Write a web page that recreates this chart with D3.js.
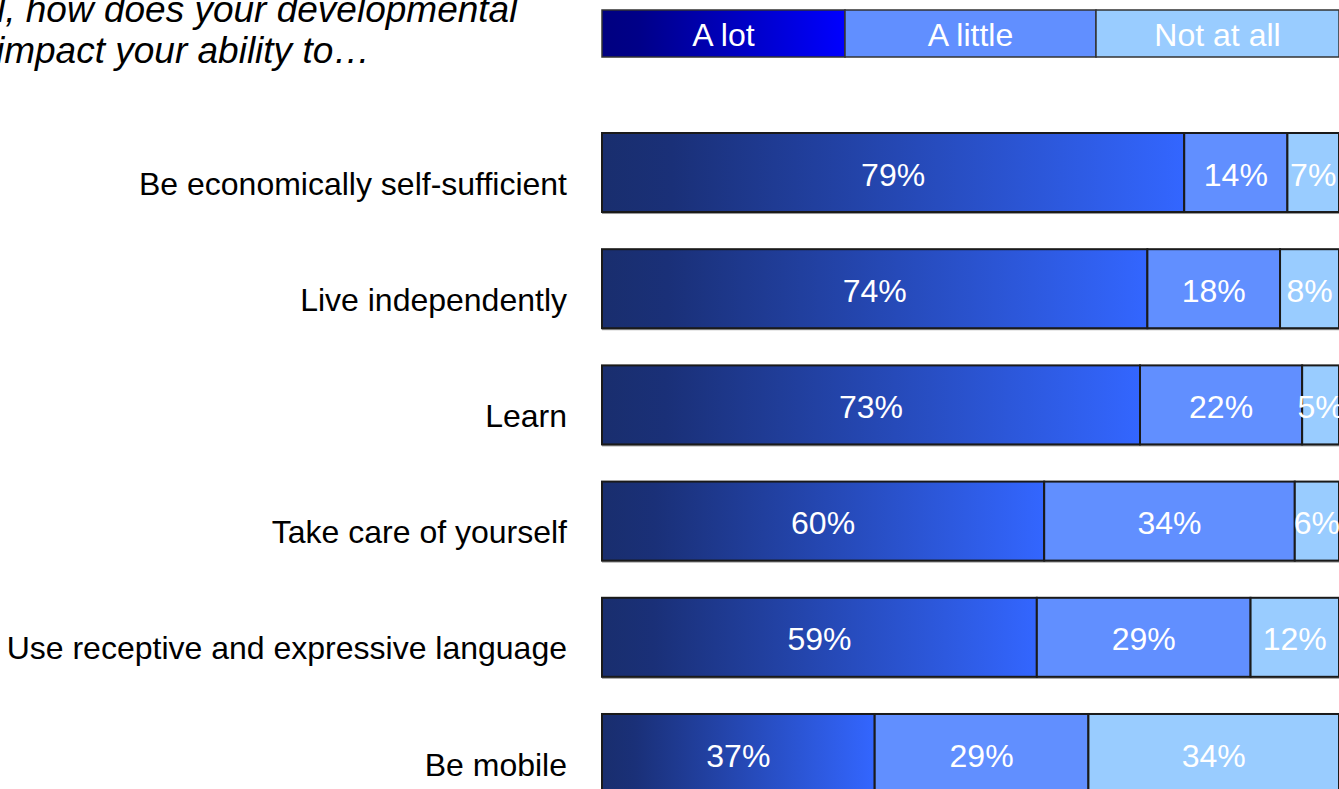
<!DOCTYPE html>
<html>
<head>
<meta charset="utf-8">
<script src="https://cdn.jsdelivr.net/npm/d3@7"></script>
<style>
  html, body { margin: 0; padding: 0; background: #fff; overflow: hidden; }
  svg { display: block; }
  text { font-family: Arial, "Liberation Sans", Helvetica, sans-serif; }
</style>
</head>
<body>
<svg id="chart" width="1339" height="789"></svg>
<script>
const categories = [
  "Be economically self-sufficient",
  "Live independently",
  "Learn",
  "Take care of yourself",
  "Use receptive and expressive language",
  "Be mobile"
];
const seriesNames = ["A lot", "A little", "Not at all"];
const aLot      = [79, 74, 73, 60, 59, 37];
const aLittle   = [14, 18, 22, 34, 29, 29];
const notAtAll  = [7, 8, 5, 6, 12, 34];
const titleLines = ["l, how does your developmental", "impact your ability to…"];

const svg = d3.select("#chart");
const defs = svg.append("defs");

const gBar = defs.append("linearGradient").attr("id", "gradLot")
  .attr("x1", "0%").attr("x2", "100%").attr("y1", "0%").attr("y2", "0%");
gBar.append("stop").attr("offset", "0%").attr("stop-color", "#192e6e");
gBar.append("stop").attr("offset", "12%").attr("stop-color", "#1a3078");
gBar.append("stop").attr("offset", "100%").attr("stop-color", "#3366ff");

const gLeg = defs.append("linearGradient").attr("id", "gradLeg")
  .attr("x1", "0%").attr("x2", "100%").attr("y1", "0%").attr("y2", "0%");
gLeg.append("stop").attr("offset", "0%").attr("stop-color", "#000080");
gLeg.append("stop").attr("offset", "15%").attr("stop-color", "#000088");
gLeg.append("stop").attr("offset", "100%").attr("stop-color", "#0000ff");

const fills = ["url(#gradLot)", "#618fff", "#99ccff"];
const legendFills = ["url(#gradLeg)", "#618fff", "#99ccff"];

const x = d3.scaleLinear().domain([0, 100]).range([602, 1339]);
const y = d3.scaleBand().domain(categories).range([133, 793]).paddingInner(0.32).paddingOuter(0);

// Title
const title = svg.append("text").attr("font-size", 37).attr("font-style", "italic").attr("fill", "#000");
title.append("tspan").attr("x", -3).attr("y", 22).text(titleLines[0]);
title.append("tspan").attr("x", -4).attr("y", 63).text(titleLines[1]);

// Legend
const legendWidths = [243, 251, 243];
let lx = 602;
const legendData = seriesNames.map((n, i) => { const d = {name: n, x0: lx, x1: lx + legendWidths[i], fill: legendFills[i]}; lx += legendWidths[i]; return d; });
const leg = svg.append("g");
leg.selectAll("rect").data(legendData).join("rect")
  .attr("x", d => d.x0).attr("y", 10).attr("width", d => d.x1 - d.x0).attr("height", 47)
  .attr("fill", d => d.fill).attr("stroke", "#333").attr("stroke-width", 1.5);
leg.selectAll("text").data(legendData).join("text")
  .attr("x", d => (d.x0 + d.x1) / 2).attr("y", 35).attr("dy", "0.35em")
  .attr("text-anchor", "middle").attr("font-size", 32).attr("fill", "#fff")
  .text(d => d.name);

// Stacked data
const rows = categories.map((c, i) => ({cat: c, "A lot": aLot[i], "A little": aLittle[i], "Not at all": notAtAll[i]}));
const stack = d3.stack().keys(seriesNames)(rows);

// shadow lines under bars
svg.append("g").selectAll("rect").data(rows).join("rect")
  .attr("x", x(0)).attr("y", d => y(d.cat) + y.bandwidth() - 1)
  .attr("width", x(100) - x(0)).attr("height", 3).attr("fill", "#999");

const layers = svg.append("g").selectAll("g").data(stack).join("g")
  .attr("fill", (d, i) => fills[i]);

layers.selectAll("rect").data(d => d).join("rect")
  .attr("x", d => x(d[0])).attr("y", d => y(d.data.cat))
  .attr("width", d => x(d[1]) - x(d[0])).attr("height", y.bandwidth())
  .attr("stroke", "#1a1a1a").attr("stroke-width", 2);

layers.selectAll("text").data(d => d.map(v => Object.assign({key: d.key}, v))).join("text")
  .attr("x", d => (x(d[0]) + x(d[1])) / 2).attr("y", d => y(d.data.cat) + y.bandwidth() / 2 + 2)
  .attr("dy", "0.35em").attr("text-anchor", "middle")
  .attr("font-size", 32).attr("fill", "#fff")
  .text(d => (d[1] - d[0]) + "%");

// Category labels
svg.append("g").selectAll("text").data(categories).join("text")
  .attr("x", 567).attr("y", d => y(d) + y.bandwidth() / 2 + 11)
  .attr("dy", "0.35em").attr("text-anchor", "end")
  .attr("font-size", 32).attr("fill", "#000")
  .text(d => d);
</script>
</body>
</html>
